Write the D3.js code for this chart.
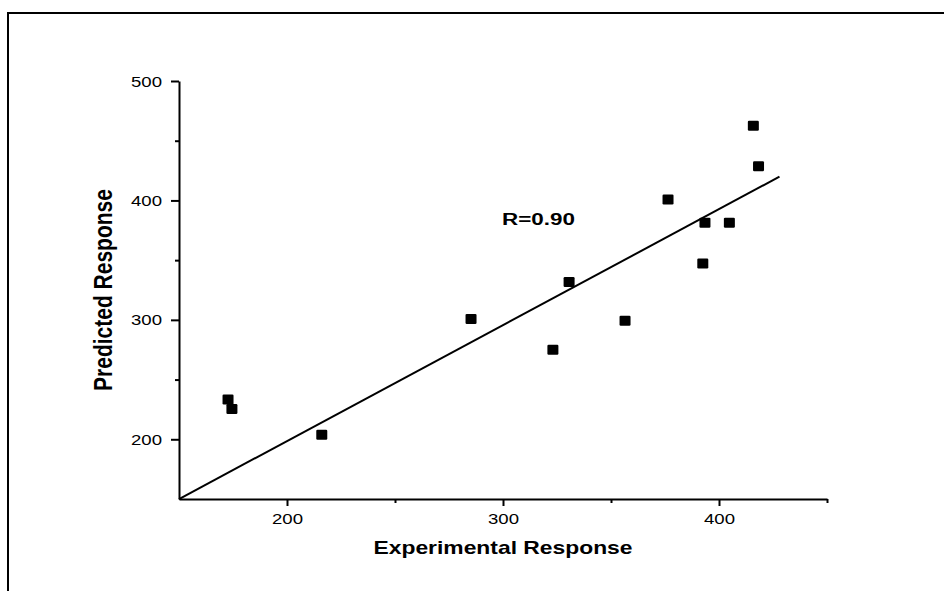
<!DOCTYPE html>
<html>
<head>
<meta charset="utf-8">
<script src="https://cdn.jsdelivr.net/npm/d3@7"></script>
<style>
  html, body { margin: 0; padding: 0; background: #fff; }
  svg { display: block; font-family: "Liberation Sans", Arial, sans-serif; }
</style>
</head>
<body>
<div id="chart"></div>
<script>
// experimental vs predicted response
const experimental = [172.7, 174.5, 216.1, 285.2, 323.1, 330.6, 356.5, 376.4, 392.5, 393.5, 404.8, 415.9, 418.3];
const predicted    = [233.3, 225.3, 203.8, 300.8, 275.0, 331.7, 299.2, 400.8, 347.2, 381.4, 381.4, 462.5, 428.6];

const xMajorTicks = [200, 300, 400];
const xMinorTicks = [250, 350, 450];
const yMajorTicks = [200, 300, 400, 500];
const yMinorTicks = [250, 350, 450];

// fitted line y = a + b*x, drawn over this x span
const fitIntercept = 4.3;
const fitSlope = 0.971;
const fitSpan = [150, 428];
const rLabel = "R=0.90";

const width = 944, height = 591;
const stretch = 1.29; // text in the picture is drawn wide

const svg = d3.select("#chart").append("svg")
    .attr("width", width)
    .attr("height", height);

/* outer frame: top and left edges only */
svg.append("path")
    .attr("d", "M8,591V13H944")
    .attr("fill", "none")
    .attr("stroke", "#000")
    .attr("stroke-width", 2);

const x = d3.scaleLinear().domain([150, 450]).range([179, 827]);
const y = d3.scaleLinear().domain([150, 500]).range([499, 81]);

/* minor ticks first, then major ticks with the domain line */
svg.append("g")
    .attr("transform", `translate(0,${y(150)})`)
    .call(d3.axisBottom(x).tickValues(xMinorTicks).tickSize(4).tickSizeOuter(0).tickFormat(""))
    .call(g => g.select(".domain").remove());
svg.append("g")
    .attr("transform", `translate(${x(150)},0)`)
    .call(d3.axisLeft(y).tickValues(yMinorTicks).tickSize(4).tickSizeOuter(0).tickFormat(""))
    .call(g => g.select(".domain").remove());

const xAxis = svg.append("g")
    .attr("transform", `translate(0,${y(150)})`)
    .call(d3.axisBottom(x).tickValues(xMajorTicks).tickSize(7).tickSizeOuter(0));
const yAxis = svg.append("g")
    .attr("transform", `translate(${x(150)},0)`)
    .call(d3.axisLeft(y).tickValues(yMajorTicks).tickSize(8).tickSizeOuter(0));

svg.selectAll(".tick line").attr("stroke-width", 2);
svg.selectAll(".domain").attr("stroke-width", 2);

xAxis.selectAll("text")
    .attr("y", 15)
    .attr("dy", "0.71em")
    .attr("transform", `scale(${stretch},1)`)
    .attr("font-size", 14.4)
    .attr("font-family", "Liberation Sans, Arial, sans-serif")
    .attr("fill", "#000");
yAxis.selectAll("text")
    .attr("x", -17 / stretch)
    .attr("dy", "0.35em")
    .attr("transform", `scale(${stretch},1)`)
    .attr("font-size", 14.4)
    .attr("font-family", "Liberation Sans, Arial, sans-serif")
    .attr("fill", "#000");

/* axis titles */
svg.append("text")
    .attr("transform", `translate(${(x(150) + x(450)) / 2},554) scale(1.27,1)`)
    .attr("text-anchor", "middle")
    .attr("font-weight", "bold")
    .attr("font-size", 18)
    .text("Experimental Response");

svg.append("text")
    .attr("transform", `translate(112,${(y(150) + y(500)) / 2}) scale(1.25,1) rotate(-90)`)
    .attr("text-anchor", "middle")
    .attr("font-weight", "bold")
    .attr("font-size", 21)
    .text("Predicted Response");

/* fitted line */
const line = d3.line().x(d => x(d)).y(d => y(fitIntercept + fitSlope * d));
svg.append("path")
    .datum(fitSpan)
    .attr("d", line)
    .attr("fill", "none")
    .attr("stroke", "#000")
    .attr("stroke-width", 2);

/* points */
const points = experimental.map((e, i) => ({ e: e, p: predicted[i] }));
svg.append("g")
    .selectAll("rect")
    .data(points)
    .join("rect")
    .attr("x", d => x(d.e) - 5.5)
    .attr("y", d => y(d.p) - 5)
    .attr("width", 11)
    .attr("height", 10)
    .attr("rx", 1.2)
    .attr("fill", "#000");

svg.append("text")
    .attr("transform", `translate(502,225) scale(1.32,1)`)
    .attr("font-weight", "bold")
    .attr("font-size", 17)
    .text(rLabel);
</script>
</body>
</html>
